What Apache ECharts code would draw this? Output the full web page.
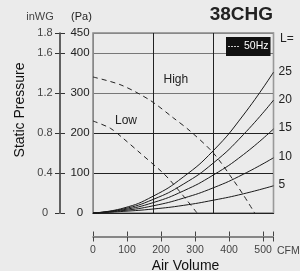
<!DOCTYPE html>
<html>
<head>
<meta charset="utf-8">
<script src="https://cdn.jsdelivr.net/npm/echarts@6/dist/echarts.min.js"></script>
<style>
html,body{margin:0;padding:0;background:#ebebeb;}
#c{width:300px;height:271px;}
</style>
</head>
<body>
<div id="c"></div>
<script>
// ---- data ----
const flowM3h = [0, 150, 300, 450, 600, 750, 900];          // plot x (m3/h)
const resistanceL25 = [0, 12, 42, 90, 156, 245, 352];       // Pa
const resistanceL20 = [0, 10, 34, 72, 125, 196, 282];
const resistanceL15 = [0, 8, 26, 55, 95, 146, 210];
const resistanceL10 = [0, 6, 18, 37, 63, 97, 138];
const resistanceL5  = [0, 4, 10, 19, 32, 48, 68];
const lengthLabels = ['25', '20', '15', '10', '5'];

const highFlow = [0, 140, 284, 400, 484, 600, 700, 750, 806];
const highPressure = [340, 320, 282, 238, 205, 150, 82, 45, 0];
const lowFlow = [0, 86, 152, 235, 343, 384, 450, 519];
const lowPressure = [230, 212, 186, 150, 103, 82, 43, 0];

const paTicks = [0, 100, 200, 300, 400, 450];
const inwgLabels = ['0', '0.4', '0.8', '1.2', '1.6', '1.8'];
const cfmMax = 530;

const FONT = "'Liberation Sans', Arial, sans-serif";
const pairs = (xs, ys) => xs.map((x, i) => [x, ys[i]]);

const curves = [resistanceL25, resistanceL20, resistanceL15, resistanceL10, resistanceL5];
const series = curves.map((ys, i) => ({
  type: 'line', name: 'L' + lengthLabels[i], xAxisIndex: 0, yAxisIndex: 0,
  data: pairs(flowM3h, ys), smooth: true, symbol: 'none',
  itemStyle: { color: '#1a1a1a' },
  lineStyle: { color: '#1a1a1a', width: 1 },
  endLabel: { show: true, formatter: lengthLabels[i], color: '#222', fontSize: 12,
              fontFamily: FONT, distance: 5, offset: [0, -1] },
  silent: true
}));
[[highFlow, highPressure], [lowFlow, lowPressure]].forEach(([xs, ys]) => {
  series.push({
    type: 'line', name: '50Hz', xAxisIndex: 0, yAxisIndex: 0,
    data: pairs(xs, ys), smooth: 0.3, symbol: 'none',
    itemStyle: { color: '#222' },
    lineStyle: { color: '#222', width: 1, type: [5, 4] }, silent: true
  });
});

const chart = echarts.init(document.getElementById('c'), null, { renderer: 'canvas' });
chart.setOption({
  backgroundColor: '#ebebeb',
  animation: false,
  textStyle: { fontFamily: FONT },
  grid: [
    { left: 93, top: 33, width: 180.5, height: 180, show: true, borderColor: '#888', borderWidth: 1.5, backgroundColor: 'transparent' },
    { left: 93, top: 236, width: 180.3, height: 1 },
    { left: 59.5, top: 33, width: 1, height: 180 }
  ],
  legend: {
    data: [{ name: '50Hz', icon: 'path://M0,0h2v1h-2z M3,0h2v1h-2z M6,0h2v1h-2z M9,0h2v1h-2z' }],
    left: 226, top: 37, padding: [4, 2, 4, 2], itemWidth: 11, itemHeight: 1.2,
    backgroundColor: '#111', borderRadius: 0,
    itemStyle: { color: '#ccc', borderWidth: 0 },
    textStyle: { color: '#fff', fontSize: 10.5, fontFamily: FONT },
    selectedMode: false
  },
  xAxis: [
    { gridIndex: 0, type: 'value', min: 0, max: 900, interval: 300,
      axisLine: { show: true, lineStyle: { color: '#222', width: 1 } },
      axisTick: { show: false }, axisLabel: { show: false },
      splitLine: { show: true, lineStyle: { color: ['#888', '#222', '#222', '#999'], width: 1 } } },
    { gridIndex: 1, type: 'value', min: 0, max: cfmMax, interval: 100, position: 'bottom',
      axisLine: { show: true, lineStyle: { color: '#666', width: 1.5 } },
      axisTick: { show: true, length: 4.5, lineStyle: { color: '#444', width: 1 } },
      axisLabel: { show: true, margin: 8, fontSize: 10.5, color: '#444', fontFamily: FONT,
                   formatter: v => (v === cfmMax ? '' : String(v)) },
      splitLine: { show: false } },
    { gridIndex: 1, type: 'value', min: 0, max: cfmMax, interval: 100, position: 'top',
      axisLine: { show: false },
      axisTick: { show: true, length: 4.5, lineStyle: { color: '#444', width: 1 } },
      axisLabel: { show: false }, splitLine: { show: false } },
    { gridIndex: 2, type: 'value', show: false }
  ],
  yAxis: [
    { gridIndex: 0, type: 'value', min: 0, max: 450, interval: 100,
      axisLine: { show: false }, axisTick: { show: false },
      axisLabel: { show: true, align: 'center', margin: 13, fontSize: 11.5, color: '#222', fontFamily: FONT },
      splitLine: { show: true, lineStyle: { color: ['#222', '#222', '#222', '#777', '#777', '#888'], width: 1.2 } } },
    { gridIndex: 1, type: 'value', show: false },
    { gridIndex: 2, type: 'value', min: 0, max: 450, interval: 100, position: 'left',
      axisLine: { show: true, lineStyle: { color: '#333', width: 1.5 } },
      axisTick: { show: true, length: 4.5, lineStyle: { color: '#333', width: 1 } },
      axisLabel: { show: true, align: 'center', margin: 14.5, fontSize: 11, color: '#444', fontFamily: FONT,
                   formatter: v => inwgLabels[paTicks.indexOf(v)] },
      splitLine: { show: false } },
    { gridIndex: 2, type: 'value', min: 0, max: 450, interval: 100, position: 'right',
      axisLine: { show: false },
      axisTick: { show: true, length: 4.5, lineStyle: { color: '#333', width: 1 } },
      axisLabel: { show: false }, splitLine: { show: false } }
  ],
  graphic: [
    { type: 'text', x: 273, y: 15, style: { text: '38CHG', font: 'bold 19px ' + FONT, fill: '#222',
      align: 'right', textAlign: 'right', verticalAlign: 'middle', textVerticalAlign: 'middle' } },
    { type: 'text', x: 40, y: 17, style: { text: 'inWG', font: '11px ' + FONT, fill: '#444',
      align: 'center', textAlign: 'center', verticalAlign: 'middle', textVerticalAlign: 'middle' } },
    { type: 'text', x: 81.5, y: 17, style: { text: '(Pa)', font: '11px ' + FONT, fill: '#222',
      align: 'center', textAlign: 'center', verticalAlign: 'middle', textVerticalAlign: 'middle' } },
    { type: 'text', x: 20, y: 110, rotation: Math.PI / 2, style: { text: 'Static Pressure', font: '14px ' + FONT, fill: '#111',
      align: 'center', textAlign: 'center', verticalAlign: 'middle', textVerticalAlign: 'middle' } },
    { type: 'text', x: 185.5, y: 266, style: { text: 'Air Volume', font: '14px ' + FONT, fill: '#111',
      align: 'center', textAlign: 'center', verticalAlign: 'middle', textVerticalAlign: 'middle' } },
    { type: 'text', x: 277, y: 251, style: { text: 'CFM', font: '10.5px ' + FONT, fill: '#444',
      align: 'left', textAlign: 'left', verticalAlign: 'middle', textVerticalAlign: 'middle' } },
    { type: 'text', x: 280, y: 38.5, style: { text: 'L=', font: '12px ' + FONT, fill: '#222',
      align: 'left', textAlign: 'left', verticalAlign: 'middle', textVerticalAlign: 'middle' } },
    { type: 'text', x: 163.5, y: 80, style: { text: 'High', font: '12px ' + FONT, fill: '#222',
      align: 'left', textAlign: 'left', verticalAlign: 'middle', textVerticalAlign: 'middle' } },
    { type: 'text', x: 115, y: 121, style: { text: 'Low', font: '12px ' + FONT, fill: '#222',
      align: 'left', textAlign: 'left', verticalAlign: 'middle', textVerticalAlign: 'middle' } }
  ],
  series: series
});
</script>
</body>
</html>
